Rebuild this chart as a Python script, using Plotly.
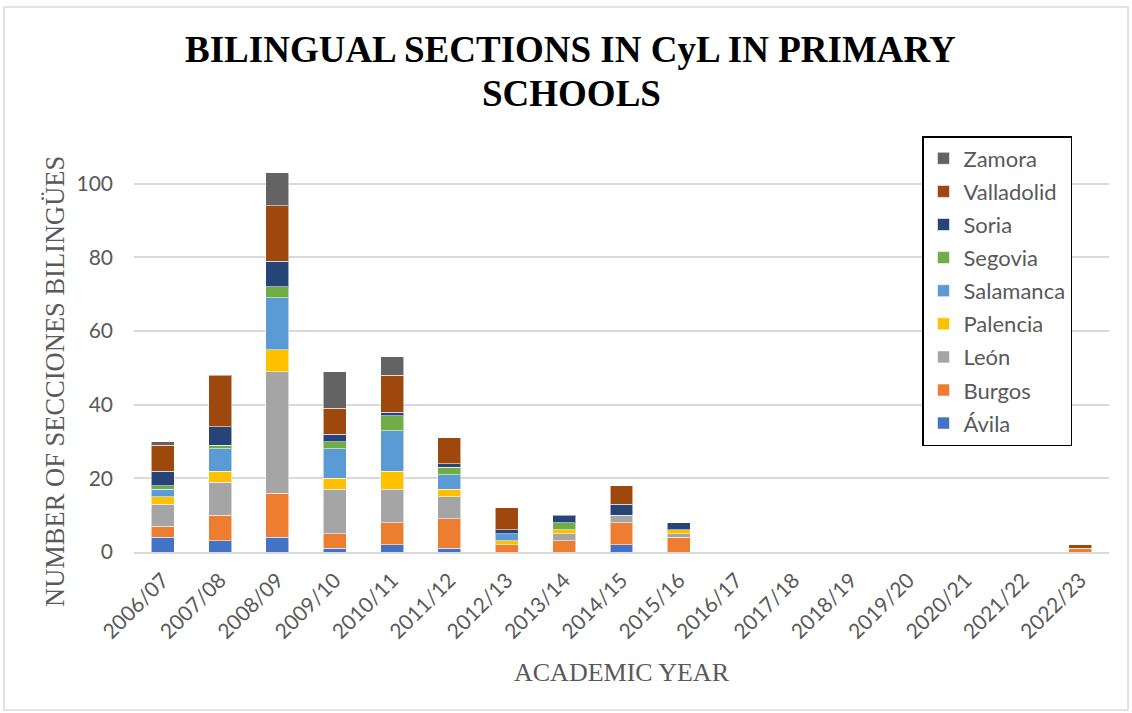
import plotly.graph_objects as go

# Academic years on the x axis
years = ["2006/07", "2007/08", "2008/09", "2009/10", "2010/11", "2011/12",
         "2012/13", "2013/14", "2014/15", "2015/16", "2016/17", "2017/18",
         "2018/19", "2019/20", "2020/21", "2021/22", "2022/23"]

# New bilingual sections per province and year
avila      = [4, 3, 4, 1, 2, 1, 0, 0, 2, 0, 0, 0, 0, 0, 0, 0, 0]
burgos     = [3, 7, 12, 4, 6, 8, 2, 3, 6, 4, 0, 0, 0, 0, 0, 0, 1]
leon       = [6, 9, 33, 12, 9, 6, 0, 2, 2, 1, 0, 0, 0, 0, 0, 0, 0]
palencia   = [2, 3, 6, 3, 5, 2, 1, 1, 0, 1, 0, 0, 0, 0, 0, 0, 0]
salamanca  = [2, 6, 14, 8, 11, 4, 2, 0, 0, 0, 0, 0, 0, 0, 0, 0, 0]
segovia    = [1, 1, 3, 2, 4, 2, 0, 2, 0, 0, 0, 0, 0, 0, 0, 0, 0]
soria      = [4, 5, 7, 2, 1, 1, 1, 2, 3, 2, 0, 0, 0, 0, 0, 0, 0]
valladolid = [7, 14, 15, 7, 10, 7, 6, 0, 5, 0, 0, 0, 0, 0, 0, 0, 1]
zamora     = [1, 0, 9, 10, 5, 0, 0, 0, 0, 0, 0, 0, 0, 0, 0, 0, 0]

provinces = ["Ávila", "Burgos", "León", "Palencia", "Salamanca",
             "Segovia", "Soria", "Valladolid", "Zamora"]
series = [avila, burgos, leon, palencia, salamanca,
          segovia, soria, valladolid, zamora]
colors = ["#4472C4", "#ED7D31", "#A5A5A5", "#FFC000", "#5B9BD5",
          "#70AD47", "#264478", "#9E480E", "#636363"]

y_ticks = [0, 20, 40, 60, 80, 100]

# Plot area geometry (pixels)
W_FIG, H_FIG = 1132, 713
L, R, T, B = 134, 23, 147, 161
PW, PH = W_FIG - L - R, H_FIG - T - B


def px(x):
    return (x - L) / PW


def py(y):
    return (H_FIG - B - y) / PH


TICK_FONT = dict(family="Lato, 'Open Sans', sans-serif", size=21, color="#595959")
LEGEND_FONT = dict(family="Lato, 'Open Sans', sans-serif", size=22, color="#595959")
SERIF = "'Liberation Serif', 'Times New Roman', serif"

fig = go.Figure()
n = len(provinces)
for i, (name, vals, col) in enumerate(zip(provinces, series, colors)):
    fig.add_trace(go.Bar(
        x=years,
        y=[v if v else None for v in vals],
        name=name,
        legendgroup=name,
        legendrank=n - i,
        marker=dict(color=col, line=dict(color="rgba(255,255,255,0.55)", width=1)),
    ))

fig.update_layout(
    width=W_FIG, height=H_FIG,
    barmode="stack",
    bargap=0.6,
    paper_bgcolor="white",
    plot_bgcolor="white",
    margin=dict(l=L, r=R, t=T, b=B, autoexpand=False),
    showlegend=True,
    legend=dict(
        traceorder="grouped",
        tracegroupgap=1.5,
        font=LEGEND_FONT,
        bordercolor="black",
        borderwidth=1.5,
        bgcolor="white",
        x=px(922), y=py(136),
        xanchor="left", yanchor="top",
        itemclick=False,
        itemwidth=30,
    ),
    xaxis=dict(
        type="category",
        tickangle=-45,
        tickfont=TICK_FONT,
        showgrid=False,
        showline=True,
        linecolor="#D9D9D9",
        linewidth=1.5,
        ticks="",
        ticklabelstandoff=6,
    ),
    yaxis=dict(
        range=[0, 110],
        tickvals=y_ticks,
        tickfont=TICK_FONT,
        showgrid=True,
        gridcolor="#D9D9D9",
        gridwidth=1.5,
        zeroline=False,
        showline=False,
        ticks="",
        ticklabelstandoff=20,
    ),
    annotations=[
        dict(text="<b>BILINGUAL SECTIONS IN CyL IN PRIMARY</b>",
             xref="paper", yref="paper", x=px(570), y=py(50),
             xanchor="center", yanchor="middle", showarrow=False,
             font=dict(family=SERIF, size=37, color="black")),
        dict(text="<b>SCHOOLS</b>",
             xref="paper", yref="paper", x=px(571), y=py(93),
             xanchor="center", yanchor="middle", showarrow=False,
             font=dict(family=SERIF, size=37, color="black")),
        dict(text="NUMBER OF SECCIONES BILINGÜES",
             xref="paper", yref="paper", x=px(55), y=py(382),
             xanchor="center", yanchor="middle", showarrow=False,
             textangle=-90,
             font=dict(family=SERIF, size=26.5, color="#595959")),
        dict(text="ACADEMIC YEAR",
             xref="paper", yref="paper", x=px(622), y=py(672),
             xanchor="center", yanchor="middle", showarrow=False,
             font=dict(family=SERIF, size=26, color="#595959")),
    ],
    shapes=[
        dict(type="rect", xref="paper", yref="paper",
             x0=px(4), x1=px(1128), y0=py(7), y1=py(710),
             line=dict(color="#D9D9D9", width=1.5), fillcolor="rgba(0,0,0,0)",
             layer="below"),
    ],
)

fig.write_html("out.html")
